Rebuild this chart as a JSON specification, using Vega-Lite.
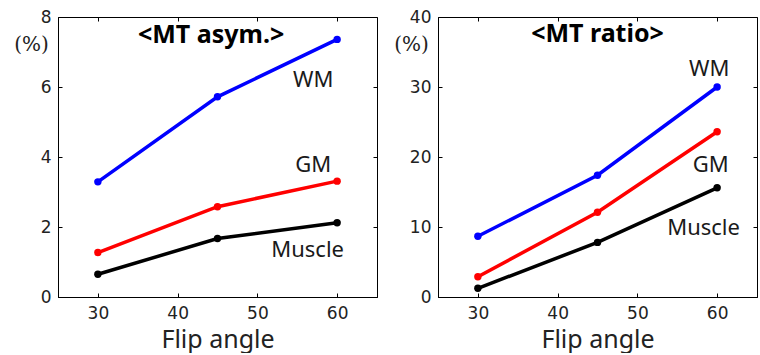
{
  "$schema": "https://vega.github.io/schema/vega-lite/v6.json",
  "autosize": {"type": "pad"},
  "padding": {"left": 13, "top": 7, "right": 0, "bottom": 0},
  "background": "white",
  "bounds": "flush",
  "spacing": 61,
  "config": {
    "view": {"stroke": "black", "strokeWidth": 1},
    "axis": {
      "grid": false,
      "domainColor": "black",
      "tickColor": "black",
      "tickSize": -4,
      "labelFont": "DejaVu Sans",
      "labelFontSize": 17,
      "labelColor": "#222",
      "titleFont": "Noto Sans",
      "titleFontWeight": "normal",
      "titleColor": "#222"
    }
  },
  "datasets": {
    "series": [
      {"panel": "asym", "series": "WM", "angle": 30, "value": 3.29},
      {"panel": "asym", "series": "WM", "angle": 45, "value": 5.72},
      {"panel": "asym", "series": "WM", "angle": 60, "value": 7.36},
      {"panel": "asym", "series": "GM", "angle": 30, "value": 1.27},
      {"panel": "asym", "series": "GM", "angle": 45, "value": 2.58},
      {"panel": "asym", "series": "GM", "angle": 60, "value": 3.31},
      {"panel": "asym", "series": "Muscle", "angle": 30, "value": 0.65},
      {"panel": "asym", "series": "Muscle", "angle": 45, "value": 1.67},
      {"panel": "asym", "series": "Muscle", "angle": 60, "value": 2.12},
      {"panel": "ratio", "series": "WM", "angle": 30, "value": 8.67},
      {"panel": "ratio", "series": "WM", "angle": 45, "value": 17.4},
      {"panel": "ratio", "series": "WM", "angle": 60, "value": 30.0},
      {"panel": "ratio", "series": "GM", "angle": 30, "value": 2.9},
      {"panel": "ratio", "series": "GM", "angle": 45, "value": 12.1},
      {"panel": "ratio", "series": "GM", "angle": 60, "value": 23.6},
      {"panel": "ratio", "series": "Muscle", "angle": 30, "value": 1.24},
      {"panel": "ratio", "series": "Muscle", "angle": 45, "value": 7.8},
      {"panel": "ratio", "series": "Muscle", "angle": 60, "value": 15.6}
    ],
    "labels": [
      {"panel": "asym", "kind": "series", "text": "WM", "x": 57, "y": 6.2},
      {"panel": "asym", "kind": "series", "text": "GM", "x": 57, "y": 3.77},
      {"panel": "asym", "kind": "series", "text": "Muscle", "x": 56.3, "y": 1.34},
      {"panel": "asym", "kind": "title", "text": "<MT asym.>", "x": 44.2, "y": 7.5},
      {"panel": "ratio", "kind": "series", "text": "WM", "x": 59, "y": 32.6},
      {"panel": "ratio", "kind": "series", "text": "GM", "x": 59.2, "y": 18.9},
      {"panel": "ratio", "kind": "series", "text": "Muscle", "x": 58.3, "y": 9.9},
      {"panel": "ratio", "kind": "title", "text": "<MT ratio>", "x": 45, "y": 37.6}
    ]
  },
  "hconcat": [
    {
      "width": 319,
      "height": 280,
      "resolve": {"axis": {"x": "independent", "y": "independent"}},
      "layer": [
        {
          "data": {"name": "series"},
          "transform": [{"filter": "datum.panel === 'asym'"}],
          "mark": {"type": "line", "strokeWidth": 3.5, "point": {"filled": true, "size": 55}},
          "encoding": {
            "x": {"field": "angle", "type": "quantitative", "scale": {"domain": [25, 65], "nice": false},
              "axis": {"values": [30, 40, 50, 60], "title": "Flip angle", "titleFontSize": 25, "titlePadding": 6, "labelPadding": 12}},
            "y": {"field": "value", "type": "quantitative", "scale": {"domain": [0, 8], "nice": false},
              "axis": {"values": [0, 2, 4, 6, 8], "title": "(%)", "titleAngle": 0, "titleAlign": "center", "titleBaseline": "middle", "titleX": -27, "titleY": 27, "titleFontSize": 20, "titleFont": "DejaVu Serif", "labelPadding": 11}},
            "color": {"field": "series", "type": "nominal", "scale": {"domain": ["WM", "GM", "Muscle"], "range": ["#0000ff", "#ff0000", "#000000"]}, "legend": null},
            "order": {"field": "angle"}
          }
        },
        {
          "data": {"name": "series"},
          "transform": [{"filter": "datum.panel === 'asym'"}],
          "mark": {"type": "point", "opacity": 0},
          "encoding": {
            "x": {"field": "angle", "type": "quantitative", "axis": {"orient": "top", "values": [30, 40, 50, 60], "labels": false, "title": null, "domain": false}},
            "y": {"field": "value", "type": "quantitative", "axis": {"orient": "right", "values": [0, 2, 4, 6, 8], "labels": false, "title": null, "domain": false}}
          }
        },
        {
          "data": {"name": "labels"},
          "transform": [{"filter": "datum.panel === 'asym' && datum.kind === 'series'"}],
          "mark": {"type": "text", "font": "Noto Sans", "fontSize": 22, "color": "#1a1a1a", "align": "center", "baseline": "middle"},
          "encoding": {
            "x": {"field": "x", "type": "quantitative", "axis": null},
            "y": {"field": "y", "type": "quantitative", "axis": null},
            "text": {"field": "text"}
          }
        },
        {
          "data": {"name": "labels"},
          "transform": [{"filter": "datum.panel === 'asym' && datum.kind === 'title'"}],
          "mark": {"type": "text", "font": "Noto Sans", "fontSize": 25, "fontWeight": "bold", "color": "black", "align": "center", "baseline": "middle"},
          "encoding": {
            "x": {"field": "x", "type": "quantitative", "axis": null},
            "y": {"field": "y", "type": "quantitative", "axis": null},
            "text": {"field": "text"}
          }
        }
      ]
    },
    {
      "width": 319,
      "height": 280,
      "resolve": {"axis": {"x": "independent", "y": "independent"}},
      "layer": [
        {
          "data": {"name": "series"},
          "transform": [{"filter": "datum.panel === 'ratio'"}],
          "mark": {"type": "line", "strokeWidth": 3.5, "point": {"filled": true, "size": 55}},
          "encoding": {
            "x": {"field": "angle", "type": "quantitative", "scale": {"domain": [25, 65], "nice": false},
              "axis": {"values": [30, 40, 50, 60], "title": "Flip angle", "titleFontSize": 25, "titlePadding": 6, "labelPadding": 12}},
            "y": {"field": "value", "type": "quantitative", "scale": {"domain": [0, 40], "nice": false},
              "axis": {"values": [0, 10, 20, 30, 40], "title": "(%)", "titleAngle": 0, "titleAlign": "center", "titleBaseline": "middle", "titleX": -27, "titleY": 27, "titleFontSize": 20, "titleFont": "DejaVu Serif", "labelPadding": 11}},
            "color": {"field": "series", "type": "nominal", "scale": {"domain": ["WM", "GM", "Muscle"], "range": ["#0000ff", "#ff0000", "#000000"]}, "legend": null},
            "order": {"field": "angle"}
          }
        },
        {
          "data": {"name": "series"},
          "transform": [{"filter": "datum.panel === 'ratio'"}],
          "mark": {"type": "point", "opacity": 0},
          "encoding": {
            "x": {"field": "angle", "type": "quantitative", "axis": {"orient": "top", "values": [30, 40, 50, 60], "labels": false, "title": null, "domain": false}},
            "y": {"field": "value", "type": "quantitative", "axis": {"orient": "right", "values": [0, 10, 20, 30, 40], "labels": false, "title": null, "domain": false}}
          }
        },
        {
          "data": {"name": "labels"},
          "transform": [{"filter": "datum.panel === 'ratio' && datum.kind === 'series'"}],
          "mark": {"type": "text", "font": "Noto Sans", "fontSize": 22, "color": "#1a1a1a", "align": "center", "baseline": "middle"},
          "encoding": {
            "x": {"field": "x", "type": "quantitative", "axis": null},
            "y": {"field": "y", "type": "quantitative", "axis": null},
            "text": {"field": "text"}
          }
        },
        {
          "data": {"name": "labels"},
          "transform": [{"filter": "datum.panel === 'ratio' && datum.kind === 'title'"}],
          "mark": {"type": "text", "font": "Noto Sans", "fontSize": 25, "fontWeight": "bold", "color": "black", "align": "center", "baseline": "middle"},
          "encoding": {
            "x": {"field": "x", "type": "quantitative", "axis": null},
            "y": {"field": "y", "type": "quantitative", "axis": null},
            "text": {"field": "text"}
          }
        }
      ]
    }
  ]
}
